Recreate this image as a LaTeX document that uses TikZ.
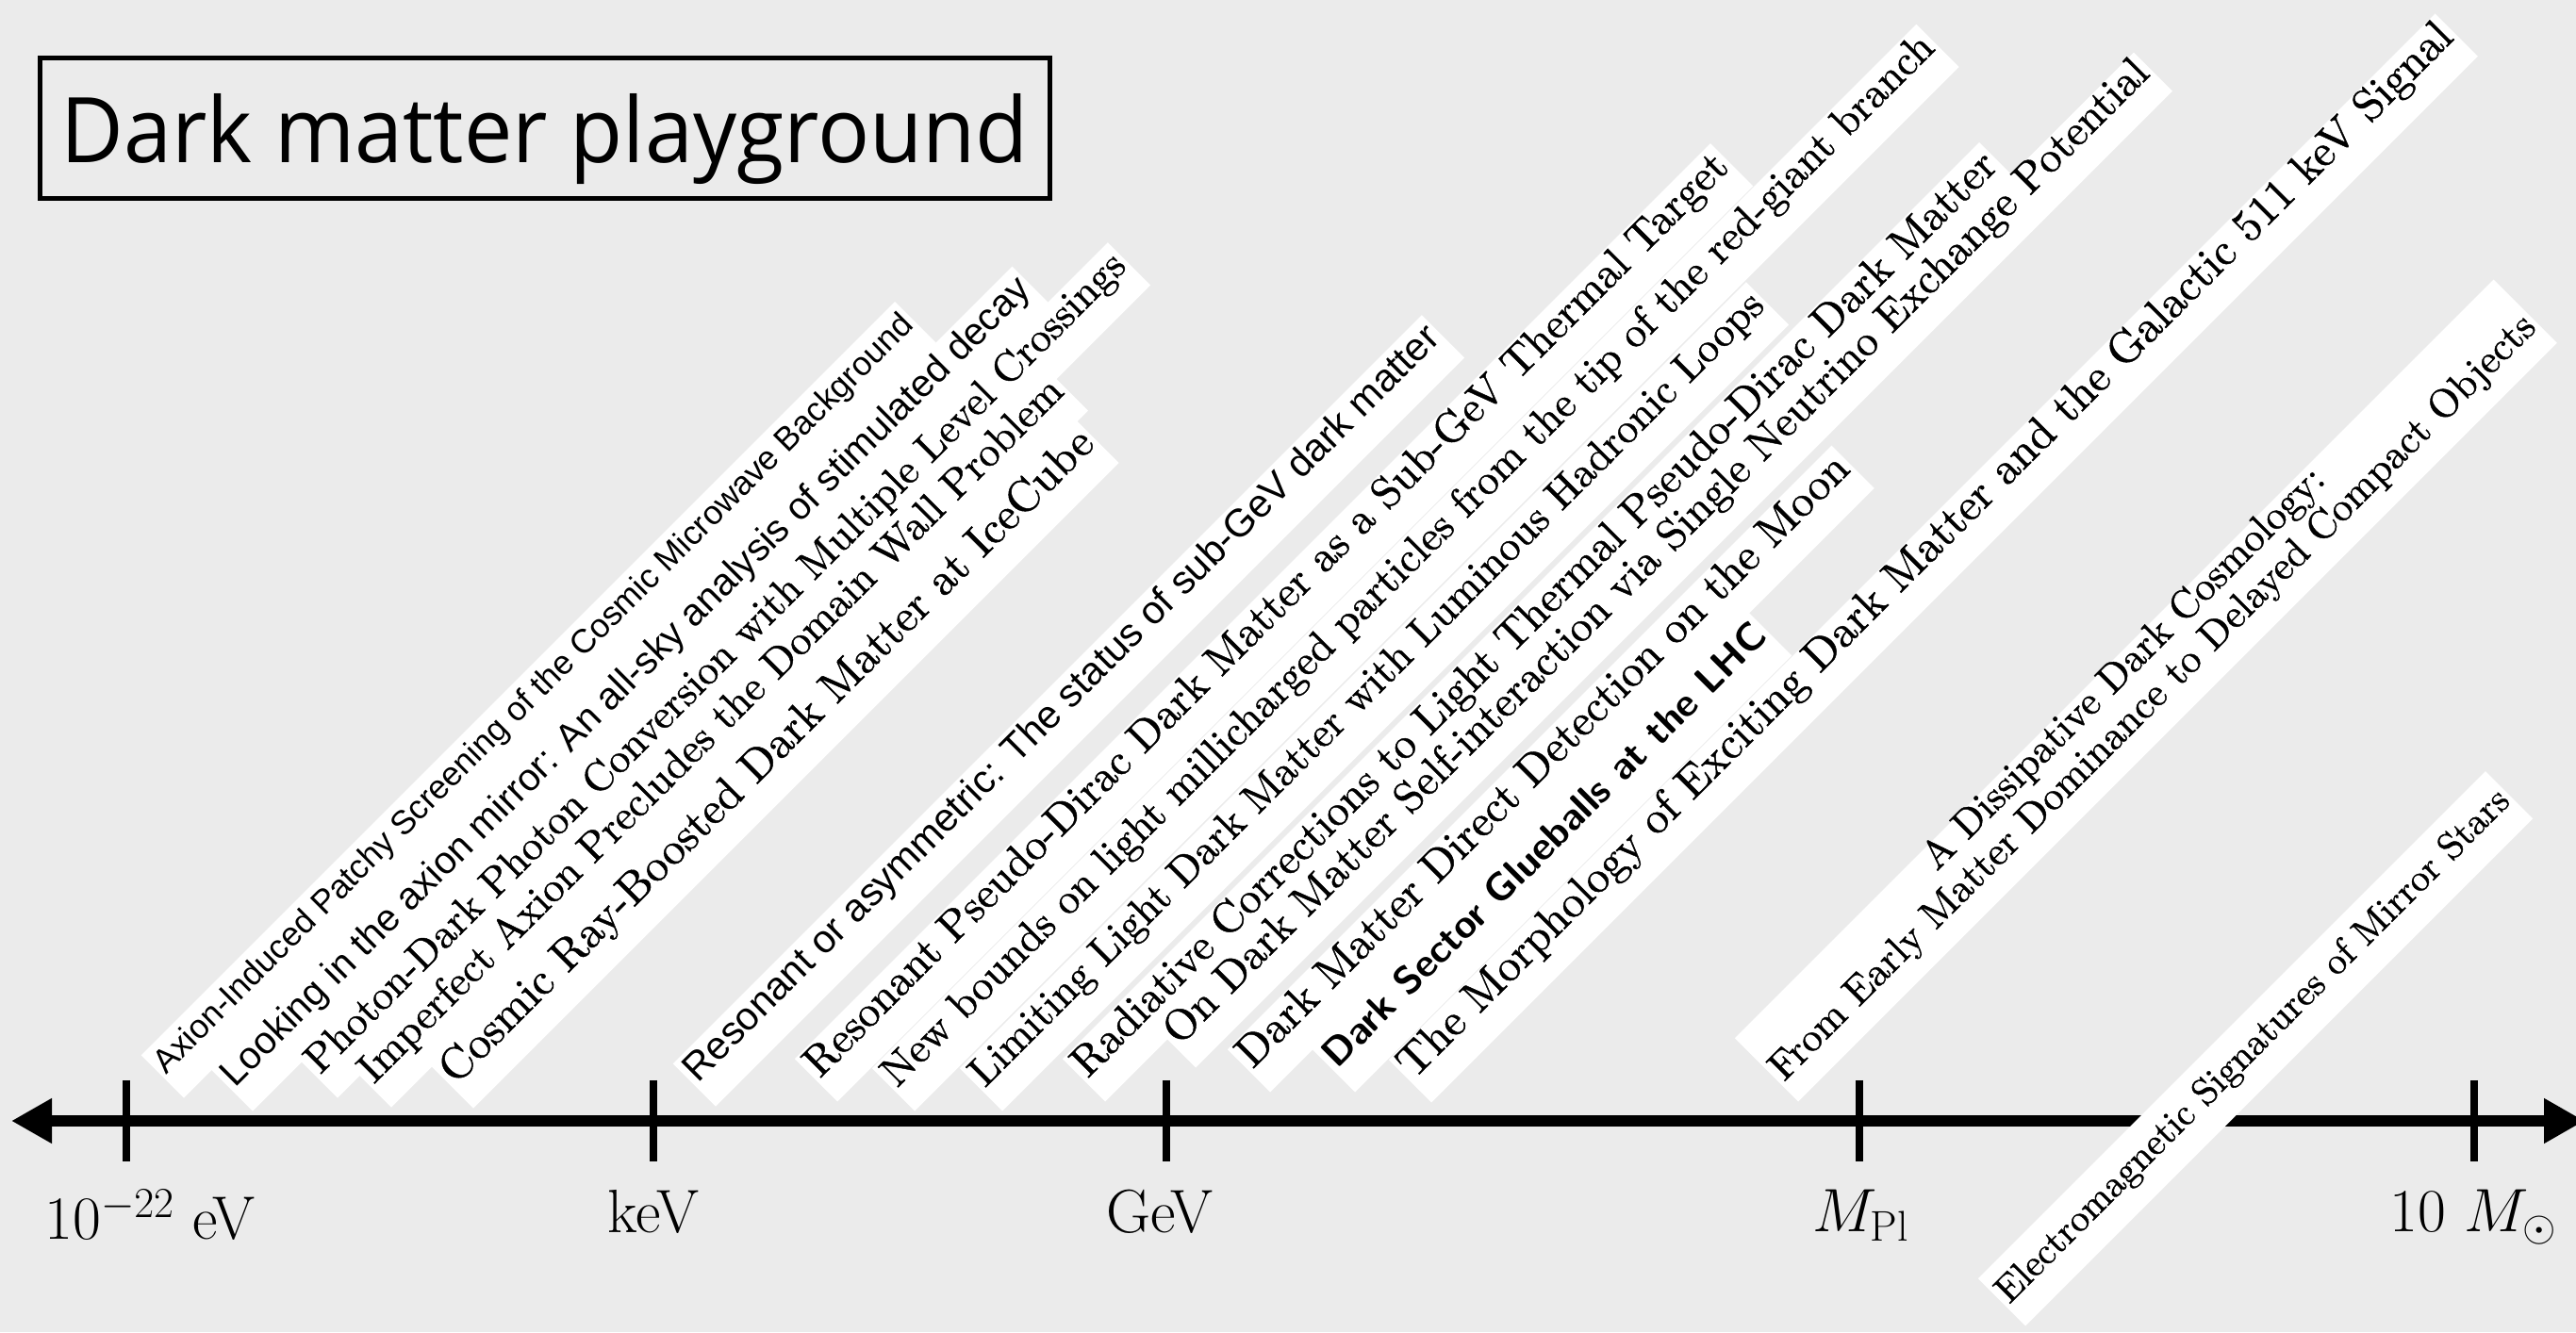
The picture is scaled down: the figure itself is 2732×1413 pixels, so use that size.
\RequirePackage{fix-cm}
\documentclass[tikz,border=0pt]{standalone}
\usepackage{fontspec}
\newfontfamily\helv{Liberation Sans}
\newfontfamily\gill{Open Sans}
\newfontfamily\titlerm[FakeBold=1]{Latin Modern Roman}
\usetikzlibrary{arrows.meta}
\definecolor{bggray}{RGB}{235,235,235}

% squeeze a title to the length it has on the axis
\newcommand{\fitto}[2]{\resizebox{#1pt}{!}{#2}}

\begin{document}
\begin{tikzpicture}[x=1pt, y=1pt, >={Triangle[length=43pt, width=45pt]}, line width=12pt,
  paper/.style={fill=white, rotate=45, anchor=south west, inner xsep=4pt, inner ysep=0pt,
    text depth=30pt, text height=34pt, font=\titlerm},
  tick/.style={line width=8pt},
  ticklabel/.style={anchor=north, inner sep=0pt, font=\fontsize{65}{78}\selectfont}]
\path[use as bounding box, fill=bggray] (0,0) rectangle (2732,1413);

% title
\node[draw, line width=5pt, outer sep=0pt, inner xsep=22pt, inner ysep=0pt,
  text height=111.5pt, text depth=37.5pt, anchor=base west] (title) at (42.5,1240)
  {\resizebox{1026pt}{73pt}{\gill Dark matter playground}};

% mass axis
\coordinate (lo) at (12,224);
\coordinate (hi) at (2741,224);
\draw[<->] (lo) -- (hi);
\foreach \x/\lx/\name/\lab in {134/159/ev/{$10^{-22}$ eV}, 693/693/kev/keV, 1237/1230/gev/GeV,
    1972/1973/mpl/{$M_{\mathrm{Pl}}$}, 2624/2623/msun/{$10\ M_\odot$}} {
  \draw[tick] (\x,267) -- (\x,181);
  \node[ticklabel] (\name) at (\lx,157) {\lab};
}

% papers
\node[paper] (axion) at (195,240) {\fitto{1122}{\helv Axion-Induced Patchy Screening of the Cosmic Microwave Background}};
\node[paper] (mirror) at (268,226) {\fitto{1195}{\helv Looking in the axion mirror: An all-sky analysis of stimulated decay}};
\node[paper] (photon) at (358,240) {\fitto{1211}{Photon-Dark Photon Conversion with Multiple Level Crossings}};
\node[paper] (wall) at (415,230) {\fitto{1037}{Imperfect Axion Precludes the Domain Wall Problem}};
\node[paper] (icecube) at (502,229) {\fitto{960}{Cosmic Ray-Boosted Dark Matter at IceCube}};
\node[paper] (subgev) at (759,231) {\fitto{1115}{\helv Resonant or asymmetric: The status of sub-GeV dark matter}};
\node[paper] (thermal) at (888,236) {\fitto{1365}{Resonant Pseudo-Dirac Dark Matter as a Sub-GeV Thermal Target}};
\node[paper] (rgb) at (970,226) {\fitto{1558}{New bounds on light millicharged particles from the tip of the red-giant branch}};
\node[paper] (loops) at (1063,226) {\fitto{1171}{Limiting Light Dark Matter with Luminous Hadronic Loops}};
\node[paper] (radcorr) at (1172,236) {\fitto{1367}{Radiative Corrections to Light Thermal Pseudo-Dirac Dark Matter}};
\node[paper, text depth=28pt, text height=30pt] (selfint) at (1268,272) {\fitto{1457}{On Dark Matter Self-interaction via Single Neutrino Exchange Potential}};
\node[paper] (moon) at (1347,246) {\fitto{898}{Dark Matter Direct Detection on the Moon}};
\node[paper] (glue) at (1437,246) {\fitto{647}{\sffamily\bfseries Dark Sector Glueballs at the LHC}};
\node[paper] (xdm) at (1518,235) {\fitto{1561}{The Morphology of Exciting Dark Matter and the Galactic 511 keV Signal}};
\node[paper, text depth=25pt, text height=70pt] (dissip) at (1907,236)
  {\fitto{1130}{\renewcommand{\arraystretch}{0.85}\begin{tabular}[b]{@{}c@{}}A Dissipative Dark Cosmology:\\From Early Matter Dominance to Delayed Compact Objects\end{tabular}}};
\node[paper, text depth=28pt, text height=43pt] (stars) at (2148,-2) {\fitto{753}{Electromagnetic Signatures of Mirror Stars}};
\end{tikzpicture}
\end{document}
